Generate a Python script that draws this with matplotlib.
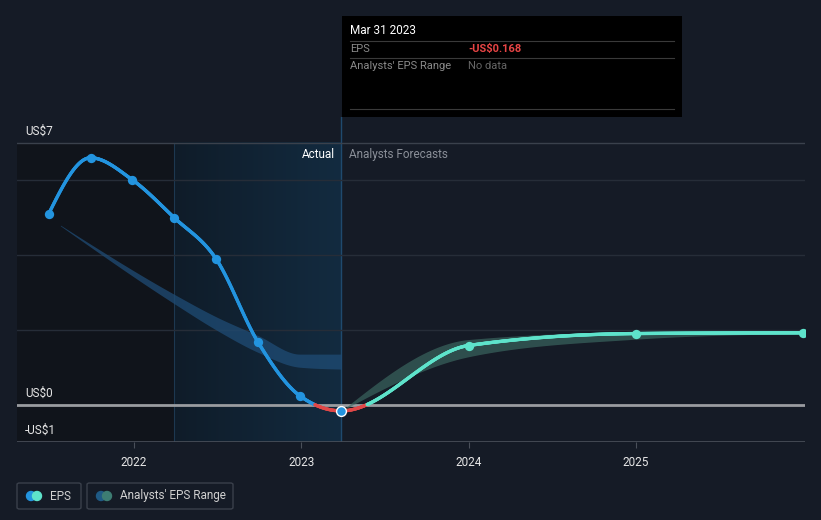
import numpy as np
import matplotlib
matplotlib.use("Agg")
import matplotlib.pyplot as plt
from matplotlib.collections import LineCollection
from matplotlib.patches import Rectangle, FancyBboxPatch, Ellipse

plt.rcParams['font.family'] = ['Roboto', 'DejaVu Sans']

# EPS history (decimal years) and analyst forecasts
eps_dates = [2021.49, 2021.74, 2021.99, 2022.24, 2022.49, 2022.74, 2022.99, 2023.24]
eps_vals = [5.10, 6.60, 6.01, 5.00, 3.90, 1.68, 0.24, -0.168]
fc_dates = [2023.24, 2024.0, 2025.0, 2026.0]
fc_vals = [-0.168, 1.58, 1.90, 1.92]
fc_hi = [-0.168, 1.74, 1.94, 1.95]
fc_lo = [-0.168, 1.28, 1.75, 1.90]
past_dates = [2021.56, 2022.24, 2022.49, 2022.74, 2022.99, 2023.24]
past_hi = [4.80, 2.95, 2.35, 1.85, 1.35, 1.35]
past_lo = [4.78, 2.70, 2.00, 1.40, 1.00, 0.95]
year_ticks = [2022, 2023, 2024, 2025]
y_ticks = [7, 0, -1]
y_labels = ["US$7", "US$0", "-US$1"]

BG = "#151b26"


def monotone(x, y, n=400):
    # monotone cubic (like d3 curveMonotoneX)
    x = np.asarray(x, float)
    y = np.asarray(y, float)
    h = np.diff(x)
    d = np.diff(y) / h
    m = np.zeros_like(y)
    for k in range(1, len(y) - 1):
        if d[k - 1] * d[k] > 0:
            p = (d[k - 1] * h[k] + d[k] * h[k - 1]) / (h[k - 1] + h[k])
            m[k] = np.sign(d[k - 1]) * min(abs(d[k - 1]), abs(d[k]), 0.5 * abs(p)) * 2
    m[0] = (3 * d[0] - m[1]) / 2 if len(y) > 2 else d[0]
    m[-1] = (3 * d[-1] - m[-2]) / 2 if len(y) > 2 else d[-1]
    xs = np.linspace(x[0], x[-1], n)
    idx = np.clip(np.searchsorted(x, xs) - 1, 0, len(x) - 2)
    t = (xs - x[idx]) / h[idx]
    h00 = 2 * t**3 - 3 * t**2 + 1
    h10 = t**3 - 2 * t**2 + t
    h01 = -2 * t**3 + 3 * t**2
    h11 = t**3 - t**2
    ys = h00 * y[idx] + h10 * h[idx] * m[idx] + h01 * y[idx + 1] + h11 * h[idx] * m[idx + 1]
    return xs, ys


fig = plt.figure(figsize=(8.21, 5.2), dpi=100, facecolor=BG)
W, H = 821, 520
ax = fig.add_axes([17 / W, 1 - 442 / H, (805 - 17) / W, (442 - 117) / H])
ax.set_facecolor(BG)
x0 = 2022 - 117 / 167.3
x1 = 2022 + 671 / 167.3
ax.set_xlim(x0, x1)
ax.set_ylim(-1, 7.69)
for s in ax.spines.values():
    s.set_visible(False)

# shaded regions
ax.axvspan(x0, 2022.24, ymin=0, ymax=8 / 8.69, color="#10141b", zorder=0, lw=0)
grad = np.linspace(0, 1, 200).reshape(1, -1)
cmap = matplotlib.colors.LinearSegmentedColormap.from_list("g", ["#0f1c29", "#132b40"])
ax.imshow(grad, extent=[2022.24, 2023.24, -1, 7], aspect="auto", cmap=cmap, zorder=0.5)
ax.plot([2022.24, 2022.24], [-1, 7], color="#1d3850", lw=0.8, zorder=1)
ax.plot([2023.24, 2023.24], [-1, 7.69], color="#1f4a6e", lw=1, zorder=1)

# grid
for g in [2, 4, 6]:
    ax.axhline(g, color="#262d38", lw=1, zorder=1)
ax.axhline(7, color="#3a414c", lw=1, zorder=1)
ax.axhline(-1, color="#4a505a", lw=1.2, zorder=1)
ax.axhline(0, color="#9a9ca0", lw=2, zorder=2)

# past analyst band
bx, bh = monotone(past_dates, past_hi)
_, bl = monotone(past_dates, past_lo)
ax.fill_between(bx, bl, bh, color="#1f4c75", alpha=0.75, lw=0, zorder=2)

# forecast band
fx, fh = monotone(fc_dates, fc_hi)
_, fl = monotone(fc_dates, fc_lo)
ax.fill_between(fx, fl, fh, color="#3d6b63", alpha=0.65, lw=0, zorder=2)

# EPS line (history + forecast), colored by segment
all_dates = eps_dates + fc_dates[1:]
all_vals = eps_vals + fc_vals[1:]
xs, ys = monotone(all_dates, all_vals, n=1200)
pts = np.column_stack([xs, ys])
segs = np.stack([pts[:-1], pts[1:]], axis=1)
mx = (xs[:-1] + xs[1:]) / 2
my = (ys[:-1] + ys[1:]) / 2
cols = np.where(my < 0, "#e04848", np.where(mx <= 2023.24, "#2394df", "#5ee3cb"))
ax.add_collection(LineCollection(segs, colors=cols, linewidths=2.4, zorder=3, capstyle="round"))

ax.scatter(eps_dates[:-1], eps_vals[:-1], s=45, color="#2394df", zorder=4, lw=0)
ax.scatter(eps_dates[-1:], eps_vals[-1:], s=50, color="#2394df", edgecolor="white", lw=1, zorder=5)
ax.scatter(fc_dates[1:], fc_vals[1:], s=45, color="#5ee3cb", zorder=4, lw=0)

# ticks
ax.set_yticks([])
ax.set_xticks(year_ticks)
ax.set_xticklabels([str(y) for y in year_ticks], color="#e6e6e6", fontsize=8.5)
ax.tick_params(axis="x", length=4, color="#4a505a", pad=6)
for v, lab in zip(y_ticks, y_labels):
    ax.text(x0 + 8 / 167.3, v + 0.14, lab, color="#e6e6e6", fontsize=8.5, ha="left", va="bottom", zorder=6)

ax.text(2023.24 - 6 / 167.3, 6.7, "Actual", color="#ffffff", fontsize=8.5, ha="right", va="center", zorder=6)
ax.text(2023.24 + 8 / 167.3, 6.7, "Analysts Forecasts", color="#8a8f98", fontsize=8.5, ha="left", va="center", zorder=6)

# tooltip box
fig.patches.append(Rectangle((342 / W, 1 - 117 / H), 340 / W, 101 / H, transform=fig.transFigure,
                             facecolor="#000000", edgecolor="none", zorder=10))
for yy in [41, 58, 109]:
    fig.add_artist(plt.Line2D([350 / W, 674 / W], [1 - yy / H, 1 - yy / H], transform=fig.transFigure,
                              color="#3a3a3a", lw=0.8, zorder=11))
fig.text(350 / W, 1 - 31 / H, "Mar 31 2023", color="white", fontsize=8.5, va="center", zorder=12)
fig.text(350 / W, 1 - 49 / H, "EPS", color="#8a8a8a", fontsize=8, va="center", zorder=12)
fig.text(468 / W, 1 - 49 / H, "-US$0.168", color="#e84545", fontsize=8, va="center", weight="bold", zorder=12)
fig.text(350 / W, 1 - 66 / H, "Analysts' EPS Range", color="#8a8a8a", fontsize=8, va="center", zorder=12)
fig.text(468 / W, 1 - 66 / H, "No data", color="#666666", fontsize=8, va="center", zorder=12)

# legend
def legbox(xl, xr, c1, c2, label):
    fig.patches.append(FancyBboxPatch((xl / W, 1 - 509 / H), (xr - xl) / W, 26 / H,
                                      boxstyle="round,pad=0,rounding_size=0.003", transform=fig.transFigure,
                                      facecolor="none", edgecolor="#3a404b", lw=1))
    fig.add_artist(Ellipse(((xl + 14) / W, 1 - 496 / H), 9 / W, 9 / H, transform=fig.transFigure, color=c1))
    fig.add_artist(Ellipse(((xl + 20) / W, 1 - 496 / H), 9 / W, 9 / H, transform=fig.transFigure, color=c2))
    fig.text((xl + 33) / W, 1 - 496 / H, label, color="#d0d0d0", fontsize=8.5, va="center")

legbox(17, 81, "#2394df", "#5ee3cb", "EPS")
legbox(87, 233, "#1f5a85", "#3d7d73", "Analysts' EPS Range")

fig.savefig("out.png", dpi=100, facecolor=BG)
